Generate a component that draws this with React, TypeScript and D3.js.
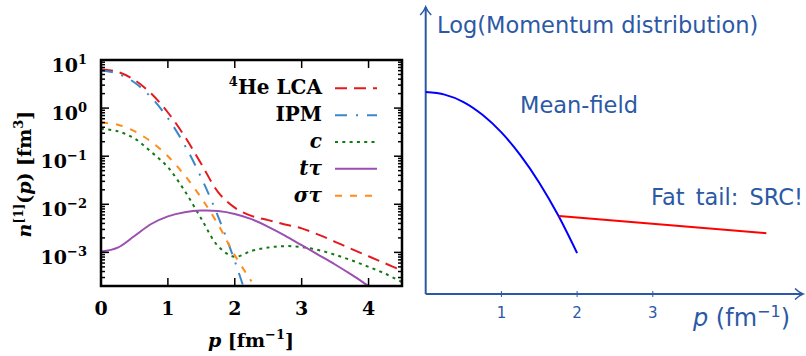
import React from "react";
import * as d3 from "d3";

// ---------- Left panel data ----------
const pGrid = [0, 0.25, 0.5, 0.75, 1.0, 1.25, 1.5, 1.75, 2.0, 2.25, 2.5, 2.75, 3.0, 3.25, 3.5, 3.75, 4.0, 4.25, 4.5];
const lcaValues = [6.46, 5.68, 3.85, 2.01, 0.81, 0.26, 0.069, 0.018, 0.0085, 0.00575, 0.00468, 0.0038, 0.00316, 0.00234, 0.00166, 0.00117, 0.00083, 0.00059, 0.00042];
const ipmValues = [6.03, 5.22, 3.4, 1.67, 0.617, 0.171, 0.0355, 0.0056, 0.00066, 0.000059];
const cValues = [0.372, 0.331, 0.234, 0.123, 0.0589, 0.0191, 0.005, 0.00135, 0.00081, 0.00107, 0.00126, 0.00135, 0.00129, 0.00112, 0.00089, 0.00068, 0.0005, 0.00036, 0.00024];
const ttauValues = [0.00104, 0.00126, 0.00219, 0.00389, 0.00562, 0.00684, 0.0074, 0.00724, 0.0063, 0.0049, 0.0034, 0.00224, 0.00141, 0.00089, 0.00056, 0.00034, 0.0002, 0.000117];
const stauValues = [0.5, 0.452, 0.331, 0.2, 0.1, 0.04, 0.0135, 0.0038, 0.00087, 0.00025];

const xTicksL = [0, 1, 2, 3, 4];
const yTickExps = [1, 0, -1, -2, -3];

// ---------- Right panel data ----------
const mfP = [0, 0.25, 0.5, 0.75, 1.0, 1.25, 1.5, 1.75, 2.0];
const mfValues = [7.11, 7.02, 6.76, 6.31, 5.69, 4.89, 3.92, 2.77, 1.44];
const tailP = [1.76, 4.5];
const tailValues = [2.75, 2.14];
const xTicksR = [1, 2, 3];

const SERIF = "'DejaVu Serif', serif";
const SANS = "'DejaVu Sans', sans-serif";
const BLUE_TXT = "#2b59a5";

export default function App() {
  const xL = d3.scaleLinear().domain([0, 4.5]).range([101, 402]);
  const yL = d3.scaleLog().domain([2e-4, 10]).range([286, 60]);
  const left = 101, right = 402, top = 60, bottom = 286;

  const mkLine = (vals: number[]) =>
    d3
      .line<number>()
      .x((_, i) => xL(pGrid[i]))
      .y((d) => yL(d))
      .curve(d3.curveCatmullRom.alpha(0.5))(vals) || "";

  const series = [
    { label: "lca", vals: lcaValues, color: "#e41a1c", dash: "12,7" },
    { label: "ipm", vals: ipmValues, color: "#3d87c9", dash: "12,9,2,9" },
    { label: "c", vals: cValues, color: "#117a11", dash: "3,4.3" },
    { label: "tt", vals: ttauValues, color: "#9b4fb0", dash: "" },
    { label: "st", vals: stauValues, color: "#ff8c1a", dash: "7,8" },
  ];

  const minor: number[] = [];
  for (let e = -4; e <= 0; e++) {
    for (let k = 2; k <= 9; k++) {
      const v = k * Math.pow(10, e);
      if (v >= 2e-4 && v <= 10) minor.push(v);
    }
  }

  const legendRows = [0, 1, 2, 3, 4].map((i) => 88.3 + i * 26.85);

  const xR = d3.scaleLinear().domain([0, 5]).range([425.7, 804.2]);
  const yR = d3.scaleLinear().domain([0, 10]).range([294, 10]);
  const mfPath =
    d3
      .line<number>()
      .x((_, i) => xR(mfP[i]))
      .y((d) => yR(d))
      .curve(d3.curveMonotoneX)(mfValues) || "";
  const tailPath =
    d3
      .line<number>()
      .x((_, i) => xR(tailP[i]))
      .y((d) => yR(d))(tailValues) || "";

  const x0 = xR(0);
  const y0 = yR(0);

  return (
    <svg
      width={806}
      height={356}
      style={{ position: "absolute", left: 0, top: 0, background: "#fff" }}
    >
      <defs>
        <clipPath id="plotclip">
          <rect x={left} y={top} width={right - left} height={bottom - top} />
        </clipPath>
      </defs>
      <rect x={0} y={0} width={806} height={356} fill="#fff" />

      {/* ---------- Left panel ---------- */}
      <g clipPath="url(#plotclip)">
        {series.map((s) => (
          <path
            key={s.label}
            d={mkLine(s.vals)}
            fill="none"
            stroke={s.color}
            strokeWidth={2}
            strokeDasharray={s.dash || undefined}
          />
        ))}
      </g>

      <g stroke="#000" strokeWidth={1.5}>
        {xTicksL.map((t) => (
          <g key={"xt" + t}>
            <line x1={xL(t)} x2={xL(t)} y1={bottom} y2={bottom - 8} />
            <line x1={xL(t)} x2={xL(t)} y1={top} y2={top + 8} />
          </g>
        ))}
        {yTickExps.map((e) => (
          <g key={"yt" + e}>
            <line x1={left} x2={left + 8} y1={yL(Math.pow(10, e))} y2={yL(Math.pow(10, e))} />
            <line x1={right} x2={right - 8} y1={yL(Math.pow(10, e))} y2={yL(Math.pow(10, e))} />
          </g>
        ))}
        {minor.map((v, i) => (
          <g key={"mt" + i}>
            <line x1={left} x2={left + 4} y1={yL(v)} y2={yL(v)} />
            <line x1={right} x2={right - 4} y1={yL(v)} y2={yL(v)} />
          </g>
        ))}
      </g>
      <rect
        x={left}
        y={top}
        width={right - left}
        height={bottom - top}
        fill="none"
        stroke="#000"
        strokeWidth={2.5}
      />

      <g fontFamily={SERIF} fontWeight="bold" fontSize={19} fill="#000">
        {xTicksL.map((t) => (
          <text key={"xl" + t} x={xL(t)} y={315} textAnchor="middle">
            {t}
          </text>
        ))}
        {yTickExps.map((e) => (
          <text key={"yl" + e} x={87} y={yL(Math.pow(10, e)) + 12} textAnchor="end">
            10
            <tspan dy={-8} fontSize={13}>
              {e < 0 ? "\u2212" + Math.abs(e) : String(e)}
            </tspan>
          </text>
        ))}
      </g>

      <text
        x={251}
        y={347}
        textAnchor="middle"
        fontFamily={SERIF}
        fontWeight="bold"
        fontSize={19}
      >
        <tspan fontStyle="italic">p</tspan>
        <tspan> [fm</tspan>
        <tspan dy={-8} fontSize={13}>{"\u22121"}</tspan>
        <tspan dy={8}>]</tspan>
      </text>
      <text
        transform="translate(31,174) rotate(-90)"
        textAnchor="middle"
        fontFamily={SERIF}
        fontWeight="bold"
        fontSize={19}
      >
        <tspan fontStyle="italic">n</tspan>
        <tspan dy={-8} fontSize={12}>[1]</tspan>
        <tspan dy={8}>(</tspan>
        <tspan fontStyle="italic">p</tspan>
        <tspan>) [fm</tspan>
        <tspan dy={-8} fontSize={13}>3</tspan>
        <tspan dy={8}>]</tspan>
      </text>

      <g fontFamily={SERIF} fontWeight="bold" fontSize={20}>
        <text x={322} y={legendRows[0] + 6} textAnchor="end">
          <tspan dy={-8} fontSize={13}>4</tspan>
          <tspan dy={8}>He LCA</tspan>
        </text>
        <text x={322} y={legendRows[1] + 6} textAnchor="end">IPM</text>
        <text x={322} y={legendRows[2] + 6} textAnchor="end" fontStyle="italic">c</text>
        <text x={322} y={legendRows[3] + 6} textAnchor="end" fontStyle="italic">{"t\u03c4"}</text>
        <text x={322} y={legendRows[4] + 6} textAnchor="end" fontStyle="italic">{"\u03c3\u03c4"}</text>
      </g>
      {series.map((s, i) => (
        <line
          key={"lg" + s.label}
          x1={335}
          x2={377}
          y1={legendRows[i]}
          y2={legendRows[i]}
          stroke={s.color}
          strokeWidth={2}
          strokeDasharray={s.dash || undefined}
        />
      ))}

      {/* ---------- Right panel ---------- */}
      <g stroke={BLUE_TXT} fill="none" strokeWidth={2}>
        <line x1={x0} x2={x0} y1={y0} y2={7} />
        <line x1={x0} x2={803} y1={y0} y2={y0} />
        <path d={`M${x0 - 5.5},15 Q${x0 - 1.5},11 ${x0},7 Q${x0 + 1.5},11 ${x0 + 5.5},15`} strokeWidth={1.6} />
        <path d={`M795,${y0 - 5.5} Q799,${y0 - 1.5} 803,${y0} Q799,${y0 + 1.5} 795,${y0 + 5.5}`} strokeWidth={1.6} />
        {xTicksR.map((t) => (
          <line key={"rt" + t} x1={xR(t)} x2={xR(t)} y1={y0 - 3} y2={y0 + 3} strokeWidth={1} />
        ))}
      </g>
      <path d={mfPath} fill="none" stroke="#0000ff" strokeWidth={2} />
      <path d={tailPath} fill="none" stroke="#ff0000" strokeWidth={2} />

      <g fontFamily={SANS} fill={BLUE_TXT}>
        {xTicksR.map((t) => (
          <text key={"rl" + t} x={xR(t)} y={318} textAnchor="middle" fontSize={15}>
            {t}
          </text>
        ))}
        <text x={437} y={33} fontSize={22.5}>
          Log(Momentum distribution)
        </text>
        <text x={520} y={113} fontSize={22.5}>
          Mean-field
        </text>
        <text x={651} y={205} fontSize={22.5} wordSpacing={4}>
          Fat tail: SRC!
        </text>
        <text x={693} y={326} fontSize={24}>
          <tspan fontStyle="italic">p</tspan>
          <tspan> (fm</tspan>
          <tspan dy={-9} fontSize={16}>{"\u22121"}</tspan>
          <tspan dy={9}>)</tspan>
        </text>
      </g>
    </svg>
  );
}
